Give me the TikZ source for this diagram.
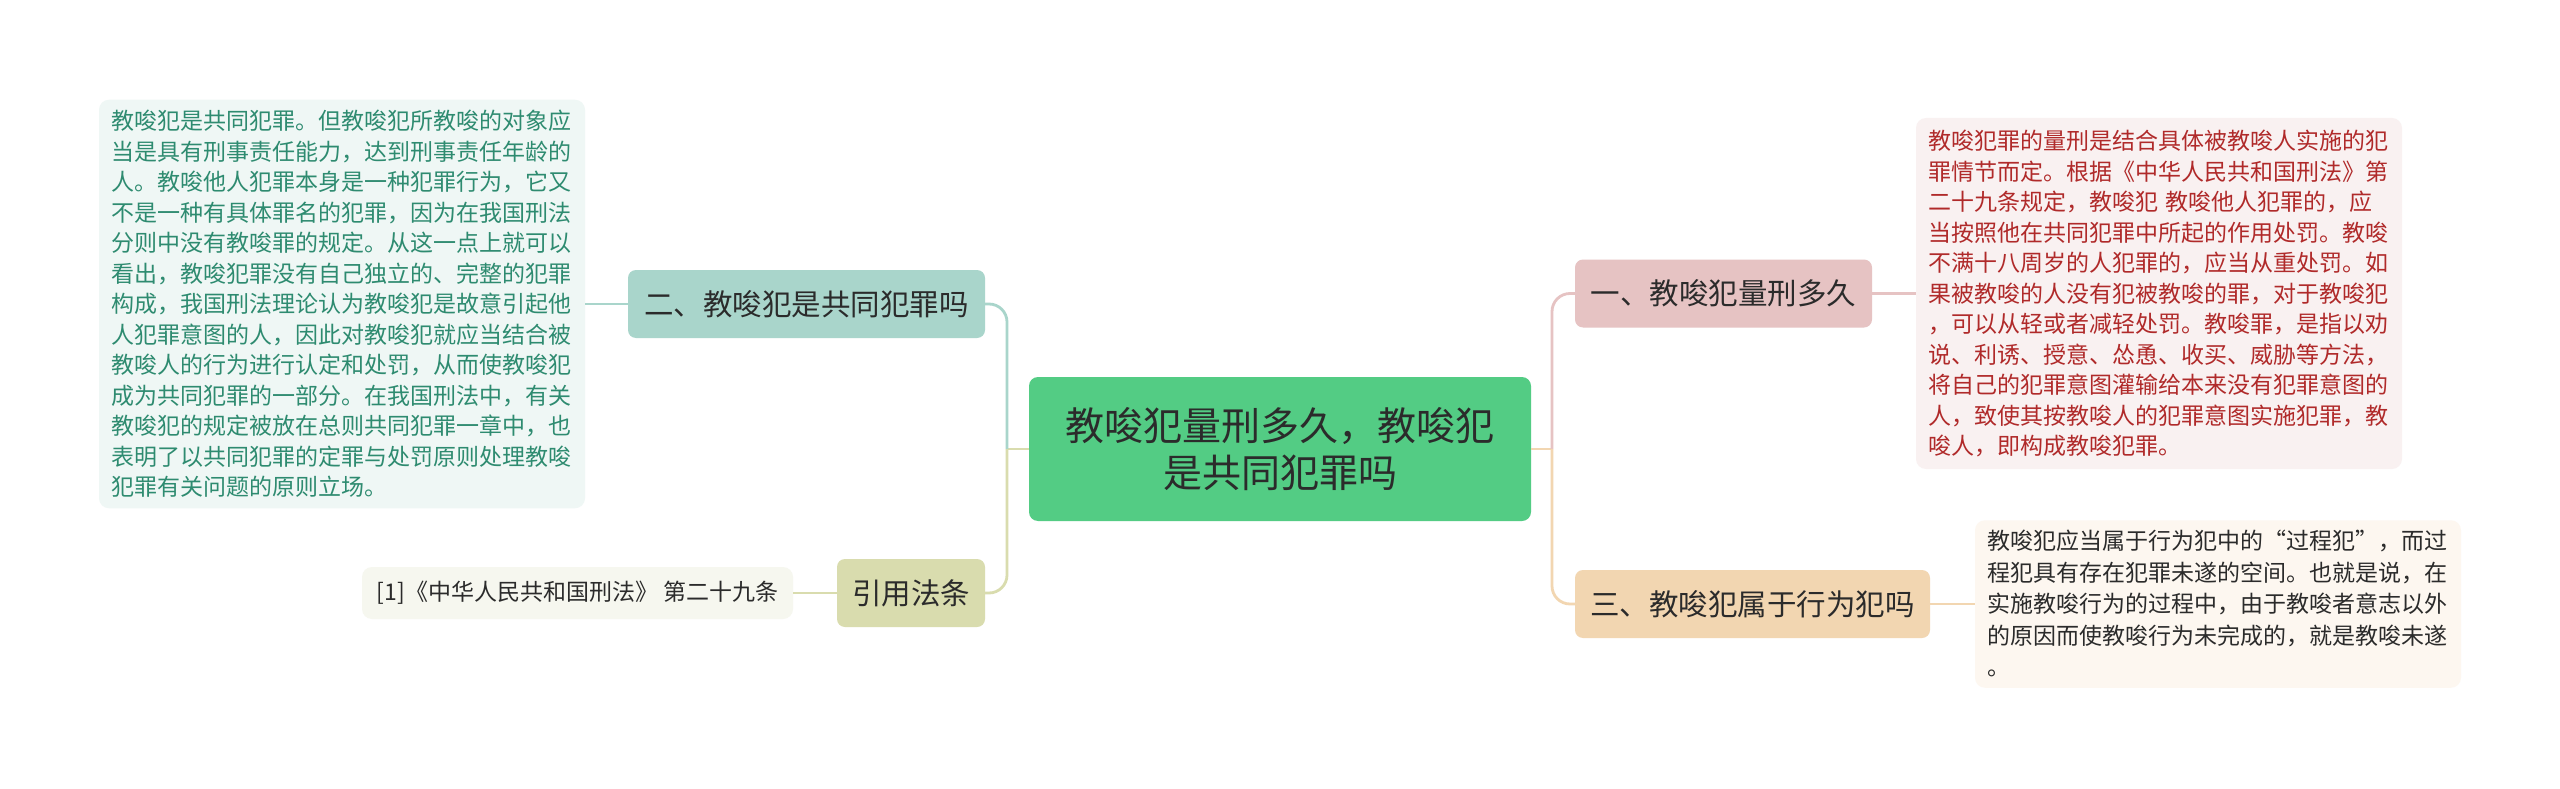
\documentclass[tikz,border=0pt]{standalone}
\usepackage{fontspec}
\setmainfont{Noto Sans CJK SC}
\definecolor{cgreen}{HTML}{53CC84}
\definecolor{cteal}{HTML}{A9D5CB}
\definecolor{tealbg}{HTML}{EFF7F5}
\definecolor{tealtxt}{HTML}{2E8B70}
\definecolor{colive}{HTML}{D9DCAE}
\definecolor{olivebg}{HTML}{F6F7EF}
\definecolor{cpink}{HTML}{E6C3C3}
\definecolor{pinkbg}{HTML}{F9F1F1}
\definecolor{redtxt}{HTML}{B02A2A}
\definecolor{cpeach}{HTML}{F2D6B1}
\definecolor{peachbg}{HTML}{FDF7F0}
\definecolor{darktxt}{HTML}{2B2B2B}
\newcommand{\lstrut}{\rule[-6.5pt]{0pt}{30.5pt}}
\newcommand{\mstrut}{\rule[-7pt]{0pt}{31.5pt}}
\begin{document}
\begin{tikzpicture}[x=1pt,y=-1pt,
  every node/.style={inner sep=0pt, outer sep=0pt},
  topic/.style={rounded corners=8pt, minimum height=68pt, font=\fontsize{29.5}{36}\selectfont, text=darktxt},
  leaf/.style={rounded corners=10pt, align=left, text width=462pt, inner xsep=12pt},
  link/.style={line width=2.8pt},
  spine/.style={line width=2.8pt, rounded corners=18pt}]
\useasboundingbox (0,0) rectangle (2560,789);
\fill[white] (0,0) rectangle (2560,789);

% root
\node[fill=cgreen, rounded corners=9pt, minimum width=502pt, minimum height=144pt, align=center,
      font=\fontsize{39}{47}\selectfont, text=darktxt] (root) at (1280,449)
      {教唆犯量刑多久，教唆犯\\是共同犯罪吗};

% topics
\node[topic, fill=cteal, minimum width=357pt] (t2) at (806.5,304) {二、教唆犯是共同犯罪吗};
\node[topic, fill=colive, minimum width=148pt] (t4) at (911,593) {引用法条};
\node[topic, fill=cpink, minimum width=297pt] (t1) at (1723.5,293.5) {一、教唆犯量刑多久};
\node[topic, fill=cpeach, minimum width=355pt] (t3) at (1752.5,604) {三、教唆犯属于行为犯吗};

% leaves
\node[leaf, fill=tealbg, text=tealtxt, inner ysep=6pt, anchor=east,
      font=\fontsize{23}{30.5}\selectfont] (l2) at (585,304)
{\lstrut 教唆犯是共同犯罪。但教唆犯所教唆的对象应\\
当是具有刑事责任能力，达到刑事责任年龄的\\
人。教唆他人犯罪本身是一种犯罪行为，它又\\
不是一种有具体罪名的犯罪，因为在我国刑法\\
分则中没有教唆罪的规定。从这一点上就可以\\
看出，教唆犯罪没有自己独立的、完整的犯罪\\
构成，我国刑法理论认为教唆犯是故意引起他\\
人犯罪意图的人，因此对教唆犯就应当结合被\\
教唆人的行为进行认定和处罚，从而使教唆犯\\
成为共同犯罪的一部分。在我国刑法中，有关\\
教唆犯的规定被放在总则共同犯罪一章中，也\\
表明了以共同犯罪的定罪与处罚原则处理教唆\\
犯罪有关问题的原则立场。\lstrut};

\node[rounded corners=10pt, fill=olivebg, text=darktxt, minimum width=431pt, minimum height=52pt,
      anchor=east, font=\fontsize{23}{28}\selectfont] (cite) at (793,593)
      {[1]《中华人民共和国刑法》 第二十九条};

\node[leaf, fill=pinkbg, text=redtxt, inner ysep=7.75pt, anchor=west,
      font=\fontsize{23}{30.5}\selectfont] (l1) at (1916,293.5)
{\lstrut 教唆犯罪的量刑是结合具体被教唆人实施的犯\\
罪情节而定。根据《中华人民共和国刑法》第\\
二十九条规定，教唆犯 教唆他人犯罪的，应\\
当按照他在共同犯罪中所起的作用处罚。教唆\\
不满十八周岁的人犯罪的，应当从重处罚。如\\
果被教唆的人没有犯被教唆的罪，对于教唆犯\\
，可以从轻或者减轻处罚。教唆罪，是指以劝\\
说、利诱、授意、怂恿、收买、威胁等方法，\\
将自己的犯罪意图灌输给本来没有犯罪意图的\\
人，致使其按教唆人的犯罪意图实施犯罪，教\\
唆人，即构成教唆犯罪。\lstrut};

\node[leaf, fill=peachbg, text=darktxt, inner ysep=5pt, anchor=west,
      font=\fontsize{23}{31.5}\selectfont] (l3) at (1975,604)
{\mstrut 教唆犯应当属于行为犯中的“过程犯”，而过\\
程犯具有存在犯罪未遂的空间。也就是说，在\\
实施教唆行为的过程中，由于教唆者意志以外\\
的原因而使教唆行为未完成的，就是教唆未遂\\
。\mstrut};

% junctions
\coordinate (jl) at (1007,449);
\coordinate (jr) at (1552,449);

% connectors
\draw[link, colive] (root.west) -- (jl);
\draw[spine, cteal] (jl) |- (t2.east);
\draw[spine, colive] (jl) |- (t4.east);
\draw[link, cpeach] (root.east) -- (jr);
\draw[spine, cpink] (jr) |- (t1.west);
\draw[spine, cpeach] (jr) |- (t3.west);

\draw[link, cteal] (t2.west) -- (l2.east);
\draw[link, colive] (t4.west) -- (cite.east);
\draw[link, cpink] (t1.east) -- (l1.west);
\draw[link, cpeach] (t3.east) -- (l3.west);
\end{tikzpicture}
\end{document}
